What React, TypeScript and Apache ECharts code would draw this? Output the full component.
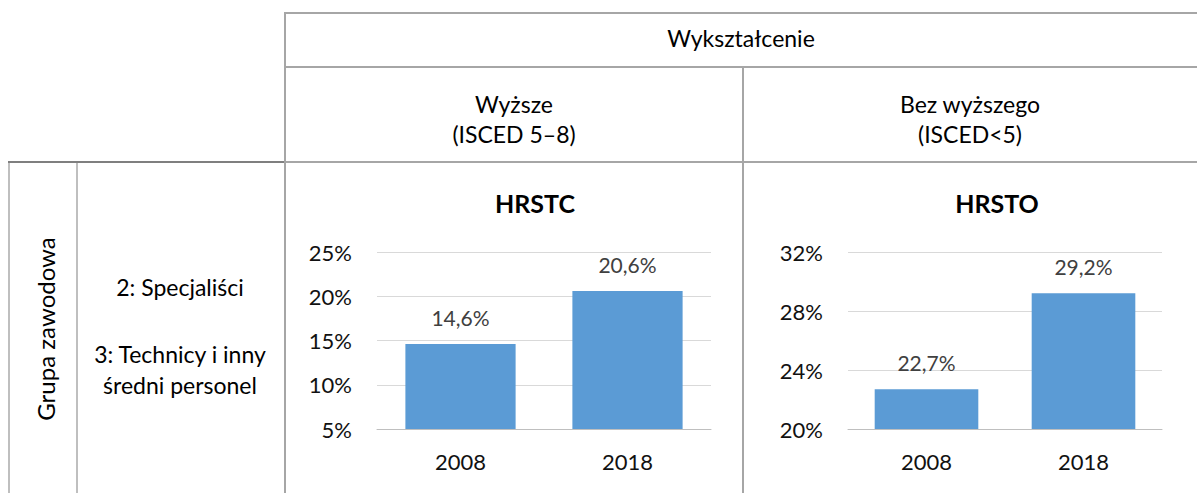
import React, { useEffect, useRef } from "react";
import * as echarts from "echarts";

const years = ["2008", "2018"];
const hrstcValues = [14.6, 20.6];
const hrstoValues = [22.7, 29.2];
const hrstcAxis = { min: 5, max: 25, interval: 5 };
const hrstoAxis = { min: 20, max: 32, interval: 4 };
const chartTitles = ["HRSTC", "HRSTO"];
const headerTop = "Wykształcenie";
const colHeaders = [
  ["Wyższe", "(ISCED 5–8)"],
  ["Bez wyższego", "(ISCED<5)"],
];
const rowHeader = "Grupa zawodowa";
const rowLabels = ["2: Specjaliści", "3: Technicy i inny", "średni personel"];

const FONT = "Lato";
const BAR = "#5b9bd5";

function fmt(v: number) {
  return v.toFixed(1).replace(".", ",") + "%";
}

export default function App() {
  const ref = useRef<HTMLDivElement>(null);
  useEffect(() => {
    if (!ref.current) return;
    const chart = echarts.init(ref.current, null, { renderer: "svg" });
    const line = (x1: number, y1: number, x2: number, y2: number, color: string) => ({
      type: "line",
      shape: { x1, y1, x2, y2 },
      style: { stroke: color, lineWidth: 2 },
      silent: true,
    });
    const txt = (text: string, x: number, y: number, size = 23, extra: any = {}) => ({
      type: "text",
      x,
      y,
      style: {
        text,
        fill: "#000",
        font: `${size}px ${FONT}`,
        textAlign: "center",
        textVerticalAlign: "middle",
      },
      ...extra,
    });
    const yAxisCommon = {
      type: "value",
      axisLine: { show: false },
      axisTick: { show: false },
      axisLabel: {
        formatter: "{value}%",
        fontFamily: FONT,
        fontSize: 22,
        color: "#111",
        margin: 25,
      },
      splitLine: { lineStyle: { color: "#d9d9d9", width: 1 } },
    };
    const xAxisCommon = {
      type: "category",
      data: years,
      axisLine: { lineStyle: { color: "#bfbfbf", width: 1 } },
      axisTick: { show: false },
      axisLabel: { fontFamily: FONT, fontSize: 22, color: "#111", margin: 21 },
    };
    const labelCommon = {
      show: true,
      position: "top",
      distance: 16,
      fontFamily: FONT,
      fontSize: 21,
      color: "#404040",
      formatter: (p: any) => fmt(p.value),
    };
    chart.setOption({
      animation: false,
      title: [
        {
          text: chartTitles[0],
          left: 535,
          top: 190,
          textAlign: "center",
          padding: 0,
          textStyle: { fontFamily: FONT, fontWeight: "bold", fontSize: 25, color: "#000" },
        },
        {
          text: chartTitles[1],
          left: 997,
          top: 190,
          textAlign: "center",
          padding: 0,
          textStyle: { fontFamily: FONT, fontWeight: "bold", fontSize: 25, color: "#000" },
        },
      ],
      grid: [
        { left: 377, top: 252, width: 334, height: 177 },
        { left: 848, top: 252, width: 314, height: 177 },
      ],
      xAxis: [
        { ...xAxisCommon, gridIndex: 0 },
        { ...xAxisCommon, gridIndex: 1 },
      ],
      yAxis: [
        { ...yAxisCommon, gridIndex: 0, ...hrstcAxis },
        { ...yAxisCommon, gridIndex: 1, ...hrstoAxis },
      ],
      series: [
        {
          type: "bar",
          xAxisIndex: 0,
          yAxisIndex: 0,
          data: hrstcValues,
          barWidth: "66%",
          itemStyle: { color: BAR },
          label: labelCommon,
        },
        {
          type: "bar",
          xAxisIndex: 1,
          yAxisIndex: 1,
          data: hrstoValues,
          barWidth: "66%",
          itemStyle: { color: BAR },
          label: labelCommon,
        },
      ],
      graphic: [
        line(284, 13, 1197, 13, "#a6a6a6"),
        line(285, 67, 1197, 67, "#a6a6a6"),
        line(8, 162, 285, 162, "#7f7f7f"),
        line(285, 162, 1197, 162, "#a6a6a6"),
        line(285, 12, 285, 493, "#a6a6a6"),
        line(743, 67, 743, 493, "#a6a6a6"),
        line(9, 163, 9, 493, "#bfbfbf"),
        line(77, 163, 77, 493, "#bfbfbf"),
        txt(headerTop, 741, 38),
        txt(colHeaders[0][0], 514, 104),
        txt(colHeaders[0][1], 514, 134),
        txt(colHeaders[1][0], 970, 104),
        txt(colHeaders[1][1], 970, 134),
        txt(rowHeader, 45, 329, 24, { rotation: Math.PI / 2 }),
        txt(rowLabels[0], 180, 287),
        txt(rowLabels[1], 180, 354),
        txt(rowLabels[2], 180, 385),
      ],
    });
    return () => chart.dispose();
  }, []);
  return (
    <div
      ref={ref}
      style={{ position: "absolute", left: 0, top: 0, width: 1197, height: 493, background: "#fff" }}
    />
  );
}
